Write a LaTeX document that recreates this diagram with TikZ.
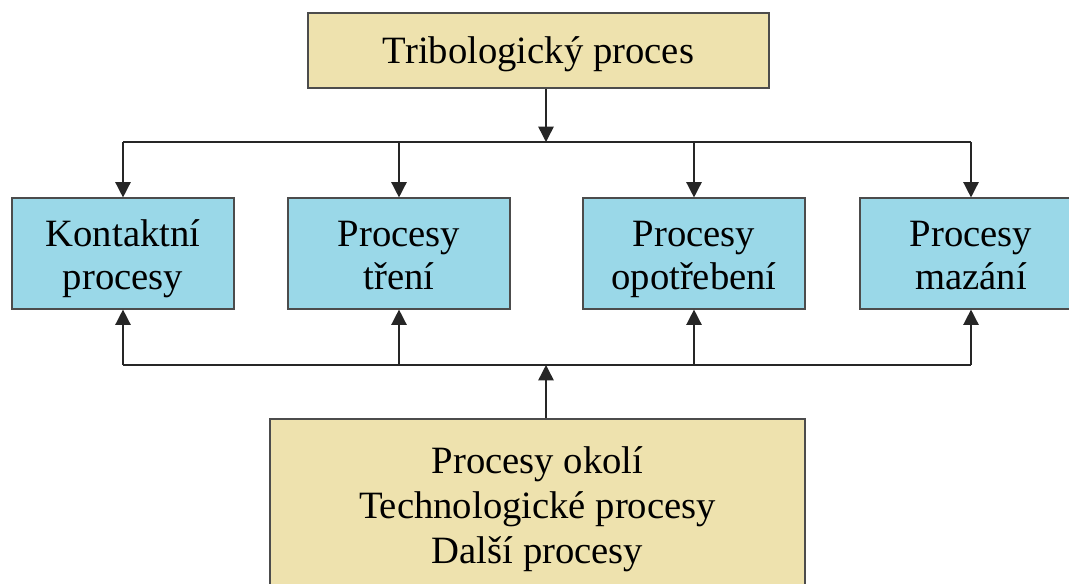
\documentclass[tikz,border=0pt]{standalone}
\usepackage{fontspec}
\setmainfont{Liberation Serif}
\usetikzlibrary{arrows.meta, positioning}
\definecolor{beige}{HTML}{EEE2AE}
\definecolor{lightblue}{HTML}{9AD8E8}
\tikzset{
>={Triangle[length=11.5pt,width=11.5pt]}, % filled arrow heads
x=0.75pt, y=-0.75pt, % coordinates in pixels of the reference
box/.style={draw=black!70, line width=1.1pt, inner sep=0pt}, % common look of all boxes
procbox/.style={box, fill=lightblue, minimum width=166.5pt, minimum height=83pt},
mainbox/.style={box, fill=beige},
boxtext/.style={align=center, inner sep=0pt, font=\fontsize{29}{32}\selectfont}, % text inside the boxes
link/.style={line width=1.1pt, black!85}, % connecting lines
}
\begin{document}
\begin{tikzpicture}
    \clip (0,0) rectangle (1069,583);
    \node[mainbox, minimum width=345.75pt, minimum height=56.25pt,
      label={[boxtext, yshift=-3.3pt]center:\strut Tribologický proces}] (trib) at (538.5,50.5) {};
    \node[procbox, label={[boxtext, yshift=-4.7pt]center:\strut Kontaktní\\\strut procesy}] (k1) at (123,253.5) {};
    \node[procbox, label={[boxtext, yshift=-4.7pt]center:\strut Procesy\\\strut tření}] (k2) at (399,253.5) {};
    \node[procbox, label={[boxtext, yshift=-4.7pt]center:\strut Procesy\\\strut opotřebení}] (k3) at (694,253.5) {};
    \node[procbox, label={[boxtext, yshift=-4.7pt]center:\strut Procesy\\\strut mazání}] (k4) at (971,253.5) {};
    \node[mainbox, minimum width=401.25pt, minimum height=129pt,
      label={[boxtext, font=\fontsize{29}{34}\selectfont, yshift=-3.2pt]center:\strut Procesy okolí\\\strut Technologické procesy\\\strut Další procesy}] (okoli) at (537.5,505) {};

    \coordinate (top) at (546,142);
    \coordinate (bot) at (546,365);
    \draw[link, ->] (trib.south -| top) -- (top);
    \draw[link] (k1.north |- top) -- (k4.north |- top);
    \draw[link] (k1.south |- bot) -- (k4.south |- bot);
    \draw[link, ->] (okoli.north -| bot) -- (bot);
    \foreach \k in {k1,k2,k3,k4} {
      \draw[link, ->] (\k.north |- top) -- (\k.north);
      \draw[link, ->] (\k.south |- bot) -- (\k.south);
    }
  \end{tikzpicture}
\end{document}
